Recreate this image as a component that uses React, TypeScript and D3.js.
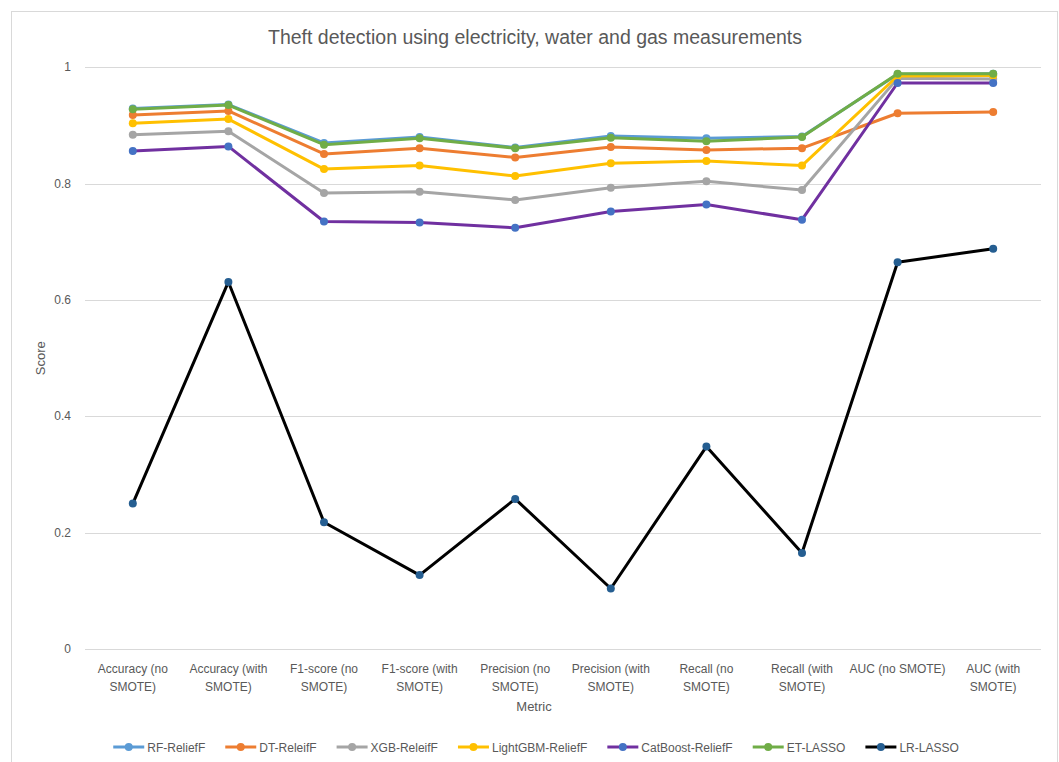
import React, { useEffect, useRef } from "react";
import * as d3 from "d3";

const WIDTH = 1059;
const HEIGHT = 762;

const TITLE = "Theft detection using electricity, water and gas measurements";
const X_TITLE = "Metric";
const Y_TITLE = "Score";

// Category labels; "\n" marks where the label wraps
const categories = [
  "Accuracy (no\nSMOTE)",
  "Accuracy (with\nSMOTE)",
  "F1-score (no\nSMOTE)",
  "F1-score (with\nSMOTE)",
  "Precision (no\nSMOTE)",
  "Precision (with\nSMOTE)",
  "Recall (no\nSMOTE)",
  "Recall (with\nSMOTE)",
  "AUC (no SMOTE)",
  "AUC (with\nSMOTE)",
];

const yTicks = [0, 0.2, 0.4, 0.6, 0.8, 1];

const seriesNames = [
  "RF-ReliefF",
  "DT-ReleifF",
  "XGB-ReleifF",
  "LightGBM-ReliefF",
  "CatBoost-ReliefF",
  "ET-LASSO",
  "LR-LASSO",
];

const rfRelief = [0.929, 0.936, 0.870, 0.880, 0.862, 0.882, 0.878, 0.881, 0.988, 0.989];
const dtRelief = [0.918, 0.925, 0.851, 0.861, 0.845, 0.863, 0.858, 0.861, 0.921, 0.923];
const xgbRelief = [0.884, 0.890, 0.784, 0.786, 0.772, 0.793, 0.804, 0.789, 0.981, 0.980];
const lgbmRelief = [0.904, 0.911, 0.825, 0.831, 0.813, 0.835, 0.839, 0.831, 0.985, 0.986];
const catRelief = [0.856, 0.864, 0.735, 0.733, 0.724, 0.752, 0.764, 0.738, 0.973, 0.973];
const etLasso = [0.928, 0.935, 0.867, 0.878, 0.861, 0.879, 0.873, 0.880, 0.989, 0.989];
const lrLasso = [0.250, 0.631, 0.218, 0.127, 0.258, 0.104, 0.348, 0.165, 0.665, 0.688];

const seriesValues = [rfRelief, dtRelief, xgbRelief, lgbmRelief, catRelief, etLasso, lrLasso];

const lineColors = ["#5B9BD5", "#ED7D31", "#A5A5A5", "#FFC000", "#7030A0", "#70AD47", "#000000"];
const markerColors = ["#5B9BD5", "#ED7D31", "#A5A5A5", "#FFC000", "#4472C4", "#70AD47", "#255E91"];

const FONT = "'Liberation Sans', Arial, sans-serif";
const TEXT = "#595959";

export default function App() {
  const ref = useRef<SVGSVGElement | null>(null);

  useEffect(() => {
    const svg = d3.select(ref.current);
    svg.selectAll("*").remove();

    const plot = { left: 85, right: 1041, top: 67.3, bottom: 649 };

    const x = d3
      .scalePoint<number>()
      .domain(d3.range(categories.length))
      .range([plot.left, plot.right])
      .padding(0.5);
    const y = d3.scaleLinear().domain([0, 1]).range([plot.bottom, plot.top]);

    svg.append("rect").attr("width", WIDTH).attr("height", HEIGHT).attr("fill", "#fff");
    // chart frame
    svg
      .append("rect")
      .attr("x", 11.5)
      .attr("y", 11.5)
      .attr("width", 1046)
      .attr("height", 780)
      .attr("fill", "none")
      .attr("stroke", "#d9d9d9")
      .attr("stroke-width", 1);

    svg
      .append("text")
      .attr("x", 535)
      .attr("y", 44)
      .attr("text-anchor", "middle")
      .attr("font-family", FONT)
      .attr("font-size", 19.5)
      .attr("fill", TEXT)
      .text(TITLE);

    // gridlines and y labels
    const yg = svg.append("g");
    yTicks.forEach((t) => {
      yg.append("line")
        .attr("x1", plot.left)
        .attr("x2", plot.right)
        .attr("y1", Math.round(y(t)) + 0.5)
        .attr("y2", Math.round(y(t)) + 0.5)
        .attr("stroke", "#d9d9d9")
        .attr("stroke-width", 1);
      yg.append("text")
        .attr("x", 71)
        .attr("y", y(t) + 4)
        .attr("text-anchor", "end")
        .attr("font-family", FONT)
        .attr("font-size", 12)
        .attr("fill", TEXT)
        .text(d3.format("~g")(t));
    });

    // category labels
    const xg = svg.append("g");
    categories.forEach((c, i) => {
      const lines = c.split("\n");
      const t = xg
        .append("text")
        .attr("text-anchor", "middle")
        .attr("font-family", FONT)
        .attr("font-size", 12)
        .attr("fill", TEXT);
      lines.forEach((ln, k) => {
        t.append("tspan")
          .attr("x", x(i)!)
          .attr("y", 673 + k * 17.5)
          .text(ln);
      });
    });

    svg
      .append("text")
      .attr("x", 534)
      .attr("y", 711)
      .attr("text-anchor", "middle")
      .attr("font-family", FONT)
      .attr("font-size", 13)
      .attr("fill", TEXT)
      .text(X_TITLE);

    svg
      .append("text")
      .attr("transform", `translate(45,${(plot.top + plot.bottom) / 2}) rotate(-90)`)
      .attr("text-anchor", "middle")
      .attr("font-family", FONT)
      .attr("font-size", 13)
      .attr("fill", TEXT)
      .text(Y_TITLE);

    // series
    const line = d3
      .line<number>()
      .x((_, i) => x(i)!)
      .y((v) => y(v));

    seriesValues.forEach((vals, s) => {
      const g = svg.append("g");
      g.append("path")
        .attr("d", line(vals)!)
        .attr("fill", "none")
        .attr("stroke", lineColors[s])
        .attr("stroke-width", 3)
        .attr("stroke-linejoin", "round")
        .attr("stroke-linecap", "round");
      g.selectAll("circle")
        .data(vals)
        .join("circle")
        .attr("cx", (_, i) => x(i)!)
        .attr("cy", (v) => y(v))
        .attr("r", 4)
        .attr("fill", markerColors[s]);
    });

    // legend
    const lg = svg.append("g");
    const legendY = 747;
    const items = seriesNames.map((name, s) => {
      const g = lg.append("g");
      g.append("line")
        .attr("x1", 0)
        .attr("x2", 31)
        .attr("y1", 0)
        .attr("y2", 0)
        .attr("stroke", lineColors[s])
        .attr("stroke-width", 3);
      g.append("circle").attr("cx", 15.5).attr("cy", 0).attr("r", 4).attr("fill", markerColors[s]);
      const t = g
        .append("text")
        .attr("x", 34)
        .attr("y", 4.5)
        .attr("font-family", FONT)
        .attr("font-size", 12)
        .attr("fill", TEXT)
        .text(name);
      const w = 34 + (t.node() as SVGTextElement).getComputedTextLength();
      return { g, w };
    });
    const gap = 20;
    const total = d3.sum(items, (d) => d.w) + gap * (items.length - 1);
    let cx = 536 - total / 2;
    items.forEach((it) => {
      it.g.attr("transform", `translate(${cx},${legendY})`);
      cx += it.w + gap;
    });
  }, []);

  return (
    <svg
      ref={ref}
      width={WIDTH}
      height={HEIGHT}
      style={{ position: "absolute", left: 0, top: 0, display: "block" }}
    />
  );
}
